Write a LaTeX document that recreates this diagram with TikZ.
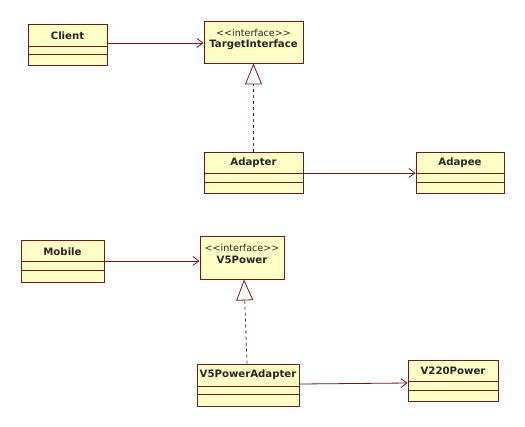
\documentclass[tikz,border=0pt]{standalone}
\usepackage{fontspec}
\setmainfont{DejaVu Sans}
\usetikzlibrary{arrows.meta}
\definecolor{umlline}{HTML}{6E1A1A}
\definecolor{umlfill}{HTML}{FFFFC6}
\tikzset{
  box/.style={draw=umlline, fill=umlfill, line width=0.9bp, inner sep=0pt},
  lbl/.style={font=\fontsize{10.2}{12}\selectfont\bfseries, inner sep=0pt, text=black!85},
  ilbl/.style={font=\fontsize{9.6}{11}\selectfont, inner sep=0pt, align=center, text=black!85},
  sep/.style={draw=umlline, line width=0.9bp},
  assoc/.style={draw=umlline, line width=0.8bp, -{Straight Barb[length=6bp,width=9bp,line width=0.8bp]}},
  realize/.style={draw=umlline, line width=0.8bp, dash pattern=on 3bp off 3bp,
     -{Triangle[open,length=21bp,width=17bp,line width=0.8bp,fill=white]}}
}
\newcommand{\stereo}{{<}{<}interface{>}{>}}
\begin{document}
\begin{tikzpicture}[x=1bp,y=-1bp]
\useasboundingbox[fill=white] (0,0) rectangle (525,426);
% top diagram
\node[box, minimum width=79bp, minimum height=41bp] (client) at (67.5,44.5) {};
\node[lbl] (clientname) at (67.5,35.5) {Client};
\draw[sep] ([yshift=-23bp]client.north west) -- ([yshift=-23bp]client.north east);
\draw[sep] ([yshift=-31bp]client.north west) -- ([yshift=-31bp]client.north east);

\node[box, minimum width=99bp, minimum height=42bp] (target) at (253.5,42) {};
\node[ilbl] (targetst) at (253.5,32.5) {\stereo};
\node[lbl] (targetname) at (253.5,44.5) {TargetInterface};

\node[box, minimum width=99bp, minimum height=41bp] (adapter) at (253.5,172.5) {};
\node[lbl] (adaptername) at (253.5,163) {Adapter};
\draw[sep] ([yshift=-22bp]adapter.north west) -- ([yshift=-22bp]adapter.north east);
\draw[sep] ([yshift=-31bp]adapter.north west) -- ([yshift=-31bp]adapter.north east);

\node[box, minimum width=88bp, minimum height=41bp] (adapee) at (460,172.5) {};
\node[lbl] (adapeename) at (460,163) {Adapee};
\draw[sep] ([yshift=-22bp]adapee.north west) -- ([yshift=-22bp]adapee.north east);
\draw[sep] ([yshift=-31bp]adapee.north west) -- ([yshift=-31bp]adapee.north east);

\draw[assoc] (client.east |- 0,43) -- (target.west |- 0,43);
\draw[realize] (adapter.north) -- (target.south);
\draw[assoc] (adapter.east |- 0,173) -- (adapee.west |- 0,173);

% bottom diagram
\node[box, minimum width=83bp, minimum height=42bp] (mobile) at (62.5,261) {};
\node[lbl] (mobilename) at (62.5,251.5) {Mobile};
\draw[sep] ([yshift=-22bp]mobile.north west) -- ([yshift=-22bp]mobile.north east);
\draw[sep] ([yshift=-31bp]mobile.north west) -- ([yshift=-31bp]mobile.north east);

\node[box, minimum width=84bp, minimum height=43bp] (v5power) at (242,257.5) {};
\node[ilbl] (v5st) at (242,247.5) {\stereo};
\node[lbl] (v5name) at (242,260) {V5Power};

\node[box, minimum width=102bp, minimum height=42bp] (v5adapter) at (248,385) {};
\node[lbl] (v5adaptername) at (248,375) {V5PowerAdapter};
\draw[sep] ([yshift=-23bp]v5adapter.north west) -- ([yshift=-23bp]v5adapter.north east);
\draw[sep] ([yshift=-31bp]v5adapter.north west) -- ([yshift=-31bp]v5adapter.north east);

\node[box, minimum width=90bp, minimum height=41bp] (v220) at (453,380.5) {};
\node[lbl] (v220name) at (453,371) {V220Power};
\draw[sep] ([yshift=-22bp]v220.north west) -- ([yshift=-22bp]v220.north east);
\draw[sep] ([yshift=-31bp]v220.north west) -- ([yshift=-31bp]v220.north east);

\draw[assoc] (mobile.east |- 0,261) -- (v5power.west |- 0,261);
\draw[realize] ([xshift=-1bp]v5adapter.north) -- ([xshift=2bp]v5power.south);
\draw[assoc] (v5adapter.east |- 0,384) -- (v220.west |- 0,383);
\end{tikzpicture}
\end{document}
